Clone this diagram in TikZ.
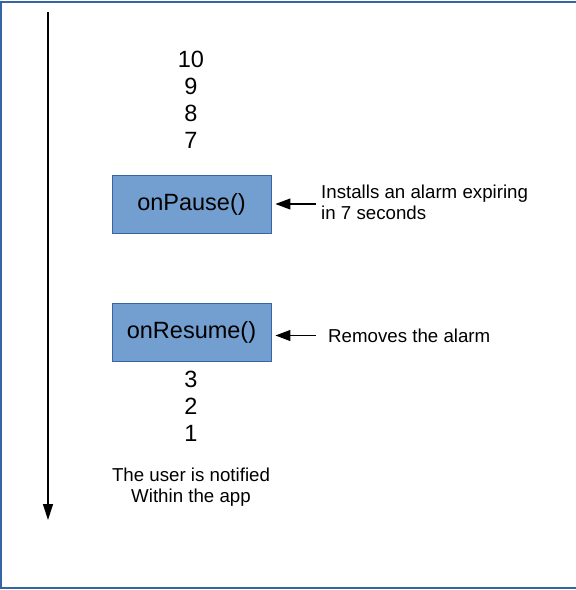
\documentclass[tikz,border=0pt]{standalone}
\usepackage{fontspec}
\setmainfont{Liberation Sans}
\usepackage{tikz}
\usetikzlibrary{arrows.meta,positioning}
\definecolor{lcBlueFill}{HTML}{729FCF}
\definecolor{lcBlueLine}{HTML}{3465A4}
\tikzset{
 lc frame/.style={line width=1.2pt,lcBlueLine},
 lc timeline/.style={line width=1.3pt,-{Triangle[width=10pt,length=16pt]}},
 lc callback/.style={draw=lcBlueLine,line width=0.9pt,fill=lcBlueFill,
                     minimum width=159pt,minimum height=58pt,inner sep=0pt,
                     font=\fontsize{23.5}{27}\selectfont},
 lc count/.style={font=\fontsize{23.5}{27}\selectfont,inner sep=0pt,anchor=base},
 lc note/.style={font=\fontsize{18.7}{21}\selectfont,inner sep=0pt},
 lc pointer/.style={line width=1.1pt,-{Triangle[width=11pt,length=15pt]},shorten >=4pt}
}
\begin{document}
\begin{tikzpicture}[x=1pt,y=-1pt]
 \useasboundingbox (0,0) rectangle (576,590);
 \draw[lc frame] (578,2) -- (1,2) -- (1,588) -- (578,588);

 % time runs downwards
 \coordinate (tl top) at (48,12);
 \coordinate (tl end) at (48,520);
 \draw[lc timeline] (tl top) -- (tl end);

 \foreach \n/\y in {10/67,9/94,8/121,7/148,3/387,2/414,1/441}
   \node[lc count] (cnt\n) at (191,\y) {\n};

 \node[lc callback] (pause) at (191.5,204) {onPause()};
 \node[lc callback] (resume) at (191.5,332) {onResume()};

 \node[lc note,anchor=west,align=left] (install) at (321,202.5)
   {Installs an alarm expiring\\in 7 seconds};
 \node[lc note,anchor=base west] (remove) at (328,342) {Removes the alarm};
 \node[lc note,anchor=north,align=center] (notify) at (191,467.5)
   {The user is notified\\Within the app};

 \coordinate (p1) at (316,204);
 \coordinate (p2) at (316,335.5);
 \draw[lc pointer] (p1) -- (p1 -| pause.east);
 \draw[lc pointer] (p2) -- (p2 -| resume.east);
\end{tikzpicture}
\end{document}
